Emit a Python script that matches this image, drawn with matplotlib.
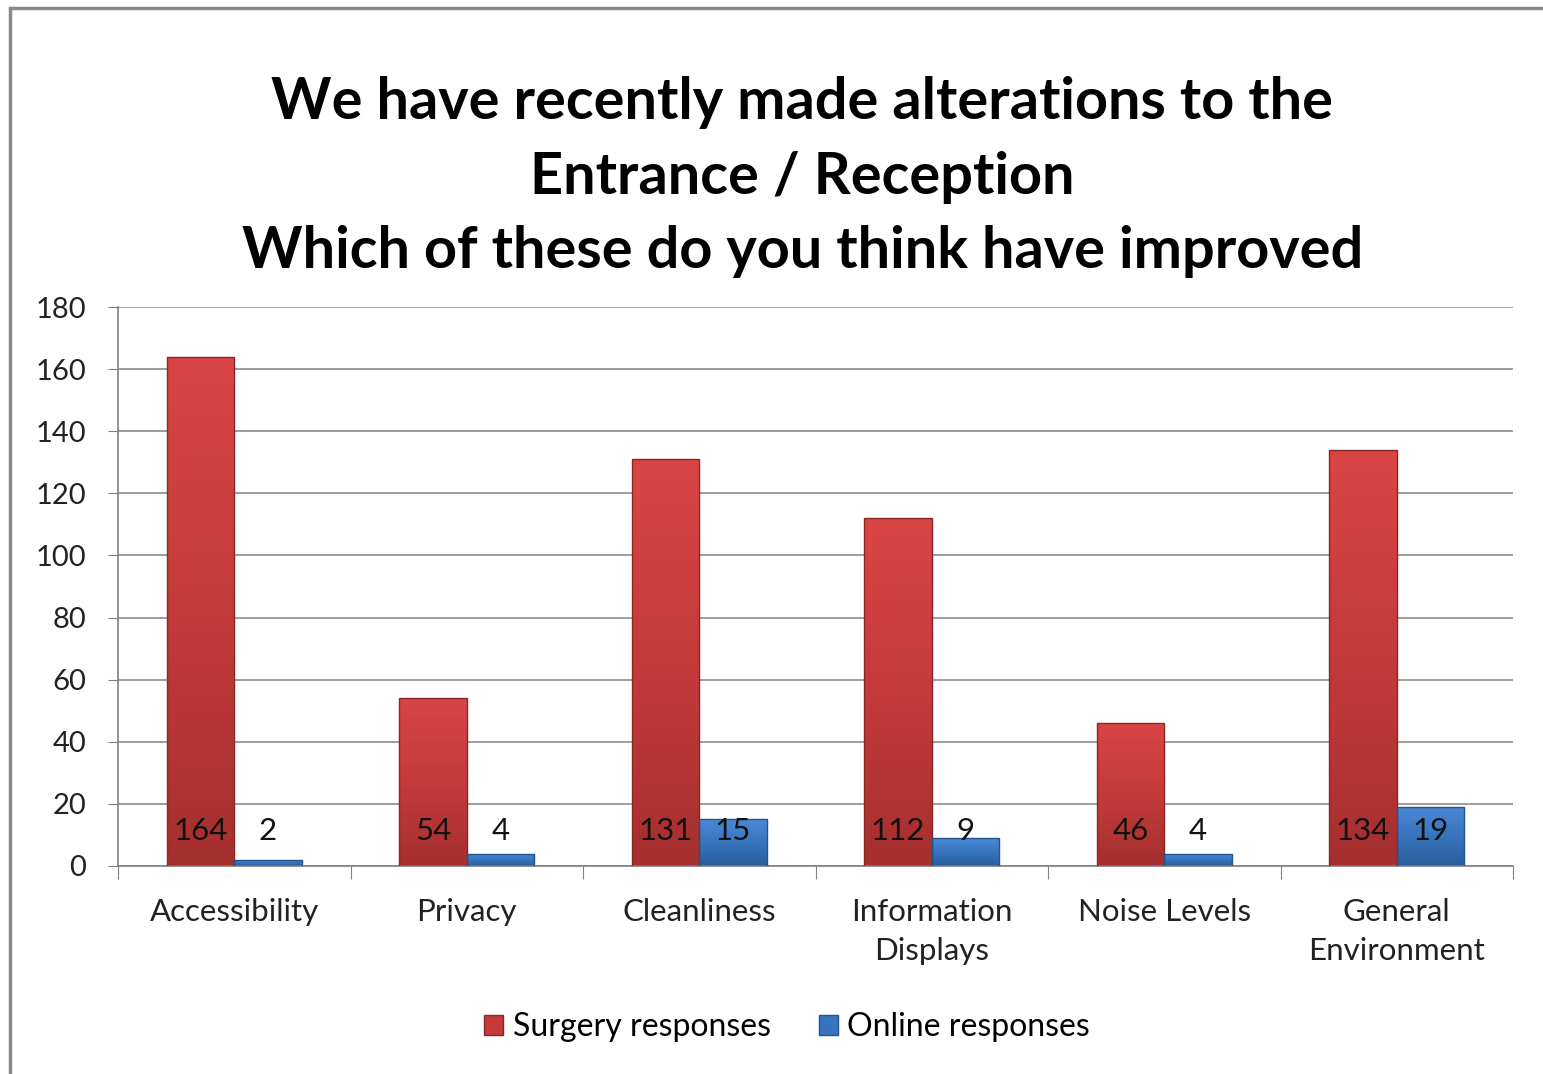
import numpy as np
import matplotlib.pyplot as plt
from matplotlib.colors import LinearSegmentedColormap
from matplotlib.patches import Rectangle

plt.rcParams['font.family'] = ['Lato', 'DejaVu Sans']

categories = ['Accessibility', 'Privacy', 'Cleanliness', 'Information\nDisplays',
              'Noise Levels', 'General\nEnvironment']
surgery = [164, 54, 131, 112, 46, 134]
online = [2, 4, 15, 9, 4, 19]
yticks = [0, 20, 40, 60, 80, 100, 120, 140, 160, 180]

title = ('We have recently made alterations to the\nEntrance / Reception\n'
         'Which of these do you think have improved')

fig = plt.figure(figsize=(15.43, 10.74), dpi=100)
fig.patch.set_facecolor('white')
# outer chart border
fig.add_artist(Rectangle((10 / 1543, -0.01), 1.05, 1 - 8 / 1074 + 0.01,
                         transform=fig.transFigure, fill=False,
                         edgecolor='#8a8a8a', linewidth=2.5))

ax = fig.add_axes([118 / 1543, 1 - 866 / 1074, (1513 - 118) / 1543, (866 - 307) / 1074])

x = np.arange(len(categories))
w = 0.29

red_cmap = LinearSegmentedColormap.from_list('r', ['#a52f2f', '#c43b3a', '#d94544'])
blue_cmap = LinearSegmentedColormap.from_list('b', ['#2a5e9c', '#3774bd', '#4a8ad6'])


def draw_bars(xs, vals, cmap, edge):
    bars = ax.bar(xs, vals, w, color='none', edgecolor=edge, linewidth=1.0, zorder=3)
    grad = np.linspace(0, 1, 256).reshape(-1, 1)
    for b in bars:
        x0, y0 = b.get_x(), b.get_y()
        im = ax.imshow(grad, cmap=cmap, aspect='auto', origin='lower',
                       extent=[x0, x0 + b.get_width(), y0, y0 + b.get_height()],
                       zorder=2)
        im.set_clip_path(b)
    return bars


draw_bars(x - w / 2, surgery, red_cmap, '#8c2626')
draw_bars(x + w / 2, online, blue_cmap, '#23548e')

for i in range(len(categories)):
    ax.text(x[i] - w / 2, 11.3, str(surgery[i]), ha='center', va='center',
            fontsize=22.5, color='#111111', zorder=5)
    ax.text(x[i] + w / 2, 11.3, str(online[i]), ha='center', va='center',
            fontsize=22.5, color='#111111', zorder=5)

ax.set_xlim(-0.5, len(categories) - 0.5)
ax.set_ylim(0, 180)
ax.set_yticks(yticks)
ax.tick_params(axis='y', labelsize=21, length=7, color='#808080', pad=16, labelcolor='#222222')
ax.yaxis.grid(True, color='#8c8c8c', linewidth=1.2, zorder=0)
ax.set_axisbelow(True)

ax.set_xticks(np.arange(len(categories) + 1) - 0.5)
ax.set_xticklabels([])
ax.set_xticks(x, minor=True)
ax.set_xticklabels(categories, minor=True, fontsize=22.5, color='#222222', linespacing=1.5)
ax.tick_params(axis='x', which='major', length=9, color='#808080')
ax.tick_params(axis='x', which='minor', length=0, pad=23)

for s in ['top', 'right']:
    ax.spines[s].set_visible(False)
ax.spines['left'].set_color('#808080')
ax.spines['bottom'].set_color('#808080')
ax.spines['left'].set_linewidth(1.2)
ax.spines['bottom'].set_linewidth(1.2)

fig.text(0.52, 1 - 177 / 1074, title, ha='center', va='center', fontsize=41.5,
         fontweight='bold', linespacing=1.5)

handles = [Rectangle((0, 0), 1, 1, facecolor='#c43b3a', edgecolor='#8c2626'),
           Rectangle((0, 0), 1, 1, facecolor='#3774bd', edgecolor='#23548e')]
fig.legend(handles, ['Surgery responses', 'Online responses'], loc='center',
           bbox_to_anchor=(0.51, 1 - 1027 / 1074), ncol=2, frameon=False,
           fontsize=23, handlelength=0.6, handleheight=0.6, handletextpad=0.3,
           columnspacing=1.5)

fig.savefig('out.png', dpi=100)
